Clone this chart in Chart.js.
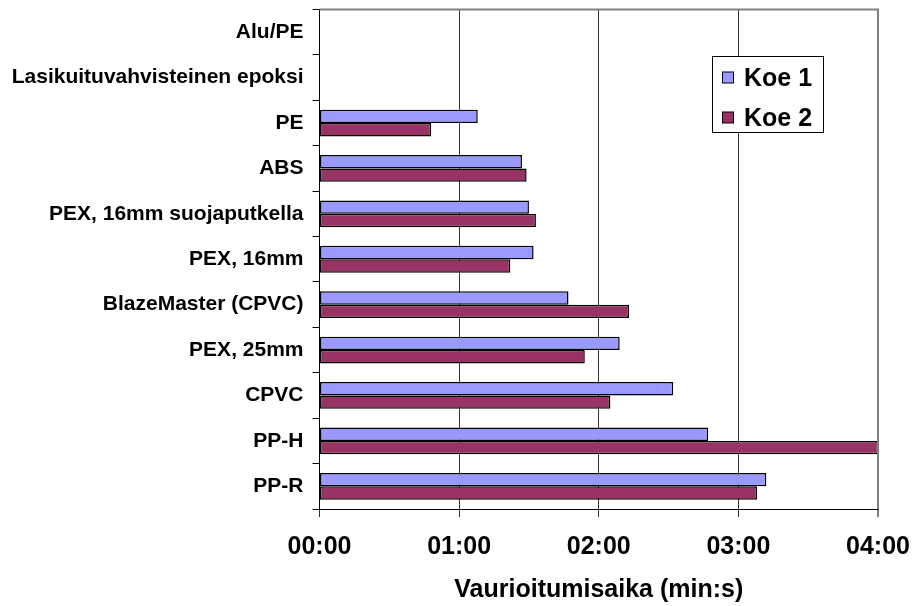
<!DOCTYPE html>
<html>
<head>
<meta charset="utf-8">
<script src="https://cdn.jsdelivr.net/npm/chart.js@4/dist/chart.umd.min.js"></script>
<style>
  html, body { margin: 0; padding: 0; background: #fff; }
  #wrap { width: 913px; height: 606px; }
</style>
</head>
<body>
<div id="wrap"><canvas id="c" width="913" height="606"></canvas></div>
<script>
// Pipe materials, listed top to bottom
const categories = [
  'Alu/PE',
  'Lasikuituvahvisteinen epoksi',
  'PE',
  'ABS',
  'PEX, 16mm suojaputkella',
  'PEX, 16mm',
  'BlazeMaster (CPVC)',
  'PEX, 25mm',
  'CPVC',
  'PP-H',
  'PP-R'
];

// Time to failure in seconds (no result for the first two materials)
const koe1 = [null, null, 68, 87, 90, 92, 107, 129, 152, 167, 192];
const koe2 = [null, null, 48, 89, 93, 82, 133, 114, 125, 240, 188];

const seriesNames = ['Koe 1', 'Koe 2'];
const seriesColors = ['#9999FF', '#993366'];

// Time axis: 0..4 minutes, one tick per minute
const axisMin = 0;
const axisMax = 240;
const tickStep = 60;
const axisTitle = 'Vaurioitumisaika (min:s)';

const FONT = "'Liberation Sans', Arial, sans-serif";

function mmss(sec) {
  const m = Math.floor(sec / 60);
  const s = Math.round(sec % 60);
  return String(m).padStart(2, '0') + ':' + String(s).padStart(2, '0');
}

// Framed legend box inside the plot, plus the grey plot-area frame
const boxLegend = {
  id: 'boxLegend',
  afterDatasetsDraw(chart) {
    const { ctx, chartArea } = chart;
    ctx.save();
    ctx.strokeStyle = '#808080';
    ctx.lineWidth = 2;
    ctx.beginPath();
    ctx.moveTo(chartArea.left, chartArea.top);
    ctx.lineTo(chartArea.right, chartArea.top);
    ctx.lineTo(chartArea.right, chartArea.bottom);
    ctx.stroke();
    ctx.restore();
  },
  afterDraw(chart) {
    const { ctx } = chart;
    const x = 712.5, y = 56.5, w = 111, h = 76;
    ctx.save();
    ctx.fillStyle = '#fff';
    ctx.fillRect(x, y, w, h);
    ctx.strokeStyle = '#000';
    ctx.lineWidth = 1;
    ctx.strokeRect(x, y, w, h);
    chart.data.datasets.forEach((ds, i) => {
      const cy = 78 + i * 40;
      ctx.fillStyle = ds.backgroundColor;
      ctx.fillRect(722.5, cy - 6, 11, 11);
      ctx.strokeStyle = '#000';
      ctx.strokeRect(722.5, cy - 6, 11, 11);
      ctx.fillStyle = '#000';
      ctx.font = 'bold 25px ' + FONT;
      ctx.textAlign = 'left';
      ctx.textBaseline = 'middle';
      ctx.fillText(ds.label, 744, cy + 1);
    });
    ctx.restore();
  }
};

new Chart(document.getElementById('c').getContext('2d'), {
  type: 'bar',
  data: {
    labels: categories,
    datasets: [
      {
        label: seriesNames[0],
        data: koe1,
        backgroundColor: seriesColors[0],
        borderColor: '#000',
        borderWidth: 1.5,
        borderSkipped: false
      },
      {
        label: seriesNames[1],
        data: koe2,
        backgroundColor: seriesColors[1],
        borderColor: '#000',
        borderWidth: 1.5,
        borderSkipped: false
      }
    ]
  },
  options: {
    responsive: false,
    animation: false,
    indexAxis: 'y',
    datasets: {
      bar: { categoryPercentage: 0.59, barPercentage: 1.0 }
    },
    layout: { padding: { top: 9.5, right: 35, left: 0, bottom: 0 } },
    plugins: {
      legend: { display: false },
      tooltip: { enabled: false }
    },
    scales: {
      x: {
        type: 'linear',
        position: 'bottom',
        min: axisMin,
        max: axisMax,
        ticks: {
          stepSize: tickStep,
          callback: (v) => mmss(v),
          color: '#000',
          font: { family: FONT, size: 25, weight: 'bold' },
          padding: 15,
          maxRotation: 0
        },
        grid: {
          color: (c) => (c.tick && c.tick.value === axisMax ? '#808080' : '#333'),
          lineWidth: (c) => (c.tick && c.tick.value === axisMax ? 2 : 1),
          tickLength: 8,
          drawTicks: true
        },
        border: { color: '#000', width: 1 },
        title: {
          display: true,
          text: axisTitle,
          color: '#000',
          font: { family: FONT, size: 25, weight: 'bold' },
          padding: { top: 0, bottom: 1 }
        },
        afterFit(scale) {
          scale.height = 97;
          scale.paddingLeft = 0;
          scale.paddingRight = 0;
        }
      },
      y: {
        type: 'category',
        grid: {
          offset: true,
          drawOnChartArea: false,
          color: '#000',
          tickLength: 7
        },
        border: { color: '#000', width: 1 },
        ticks: {
          color: '#000',
          font: { family: FONT, size: 21, weight: 'bold' },
          padding: 9,
          autoSkip: false
        },
        afterFit(scale) {
          scale.width = 319.5;
          scale.paddingTop = 0;
          scale.paddingBottom = 0;
        }
      }
    }
  },
  plugins: [boxLegend]
});
</script>
</body>
</html>
